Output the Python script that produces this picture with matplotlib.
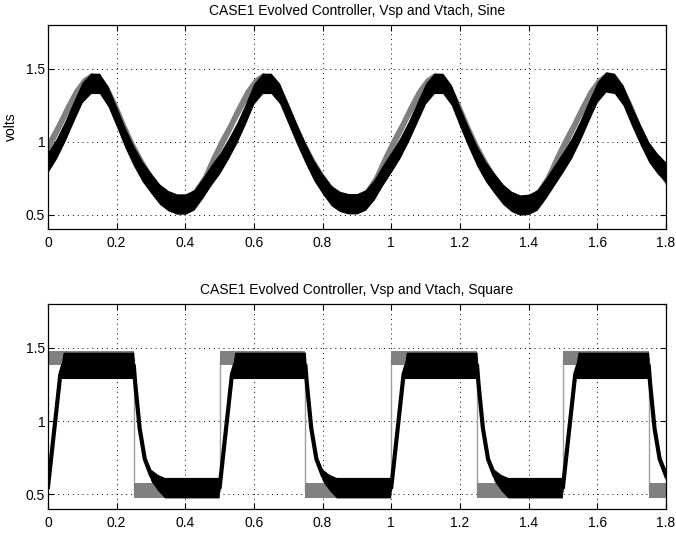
import numpy as np
import matplotlib.pyplot as plt

plt.rcParams['font.family'] = ['Liberation Sans', 'DejaVu Sans']

# 采样时间 (s)
t_sine = np.round(np.arange(0, 1.8 + 1e-9, 0.025), 3)

# 正弦输入 Vsp（灰）与 Vtach（黑）中心值，读图
vsp_sine = [0.97, 1.08, 1.20, 1.31, 1.39, 1.43, 1.41, 1.34, 1.22, 1.08,
            0.95, 0.84, 0.74, 0.66, 0.60, 0.57, 0.58, 0.63, 0.72, 0.85,
            0.97, 1.08, 1.20, 1.31, 1.39, 1.43, 1.41, 1.34, 1.22, 1.08,
            0.95, 0.84, 0.74, 0.66, 0.60, 0.57, 0.58, 0.63, 0.72, 0.85,
            0.97, 1.08, 1.20, 1.31, 1.39, 1.43, 1.41, 1.34, 1.22, 1.08,
            0.95, 0.84, 0.74, 0.66, 0.60, 0.57, 0.58, 0.63, 0.72, 0.85,
            0.97, 1.08, 1.20, 1.31, 1.39, 1.43, 1.41, 1.34, 1.22, 1.08,
            0.95, 0.84, 0.745]
vtach_sine = [0.86, 0.955, 1.075, 1.21, 1.34, 1.40, 1.40, 1.31, 1.17, 1.025,
              0.90, 0.795, 0.715, 0.64, 0.595, 0.572, 0.572, 0.60, 0.68, 0.77,
              0.85, 0.95, 1.06, 1.19, 1.33, 1.40, 1.40, 1.33, 1.19, 1.05,
              0.92, 0.80, 0.71, 0.63, 0.59, 0.574, 0.574, 0.60, 0.67, 0.77,
              0.86, 0.955, 1.07, 1.20, 1.33, 1.40, 1.40, 1.32, 1.17, 1.03,
              0.90, 0.795, 0.715, 0.64, 0.59, 0.565, 0.57, 0.60, 0.68, 0.77,
              0.86, 0.955, 1.075, 1.21, 1.34, 1.41, 1.40, 1.32, 1.18, 1.05,
              0.93, 0.85, 0.79]
sp_spread_sine = 0.045
tach_spread_sine = 0.07

# 方波输入
t_sq_sp = [0, 0.25, 0.25, 0.5, 0.5, 0.75, 0.75, 1.0, 1.0, 1.25, 1.25,
           1.5, 1.5, 1.75, 1.75, 1.8]
vsp_sq = [1.43, 1.43, 0.525, 0.525, 1.43, 1.43, 0.525, 0.525, 1.43, 1.43, 0.525,
          0.525, 1.43, 1.43, 0.525, 0.525]
sp_spread_sq = [0.05, 0.05, 0.05, 0.05, 0.05, 0.05, 0.05, 0.05, 0.05, 0.05, 0.05,
                0.05, 0.05, 0.05, 0.05, 0.05]

t_sq_tach = [0.000, 0.036, 0.044, 0.250, 0.254, 0.267, 0.282, 0.300, 0.320, 0.340, 0.498,
             0.500, 0.536, 0.544, 0.750, 0.754, 0.767, 0.782, 0.800, 0.820, 0.840, 0.998,
             1.000, 1.036, 1.044, 1.250, 1.254, 1.267, 1.282, 1.300, 1.320, 1.340, 1.498,
             1.500, 1.536, 1.544, 1.750, 1.754, 1.767, 1.782, 1.800]
vtach_sq = [0.55, 1.32, 1.38, 1.38, 1.26, 0.95, 0.74, 0.63, 0.58, 0.545, 0.545,
            0.545, 1.32, 1.38, 1.38, 1.26, 0.95, 0.74, 0.63, 0.58, 0.545, 0.545,
            0.545, 1.32, 1.38, 1.38, 1.26, 0.95, 0.74, 0.63, 0.58, 0.545, 0.545,
            0.545, 1.32, 1.38, 1.38, 1.26, 0.95, 0.74, 0.63]
tach_spread_sq = [0.02, 0.03, 0.09, 0.09, 0.03, 0.02, 0.025, 0.04, 0.055, 0.07, 0.07,
                  0.02, 0.03, 0.09, 0.09, 0.03, 0.02, 0.025, 0.04, 0.055, 0.07, 0.07,
                  0.02, 0.03, 0.09, 0.09, 0.03, 0.02, 0.025, 0.04, 0.055, 0.07, 0.07,
                  0.02, 0.03, 0.09, 0.09, 0.03, 0.02, 0.025, 0.04]

x_ticks = [0, 0.2, 0.4, 0.6, 0.8, 1.0, 1.2, 1.4, 1.6, 1.8]
x_tick_labels = ['0', '0.2', '0.4', '0.6', '0.8', '1', '1.2', '1.4', '1.6', '1.8']
y_ticks = [0.5, 1.0, 1.5]
y_tick_labels = ['0.5', '1', '1.5']

titles = ['CASE1 Evolved Controller, Vsp and Vtach, Sine',
          'CASE1 Evolved Controller, Vsp and Vtach, Square']

GRAY = '#808080'


def band(ax, t, mid, spread, color, lw, z, line_color=None, line_below=False):
    t = np.asarray(t)
    mid = np.asarray(mid)
    spread = np.asarray(spread)
    ax.fill_between(t, mid - spread, mid + spread, color=color, lw=0, zorder=z)
    lz = z - 0.1 if line_below else z + 0.1
    ax.plot(t, mid, color=line_color or color, lw=lw, zorder=lz,
            solid_joinstyle='round')


def style(ax, title):
    ax.set_xlim(0, 1.8)
    ax.set_ylim(0.4, 1.8)
    ax.set_xticks(x_ticks)
    ax.set_xticklabels(x_tick_labels)
    ax.set_yticks(y_ticks)
    ax.set_yticklabels(y_tick_labels)
    ax.set_axisbelow(True)
    ax.grid(True, linestyle=(0, (1, 4)), color='k', linewidth=0.7)
    ax.tick_params(direction='in', top=True, right=True, length=4, labelsize=10, width=0.8)
    ax.tick_params(axis='x', pad=5)
    ax.tick_params(axis='y', pad=2)
    for s in ax.spines.values():
        s.set_linewidth(0.9)
        s.set_zorder(5)
    ax.set_title(title, fontsize=10, pad=7)


fig = plt.figure(figsize=(6.76, 5.34), dpi=100)
ax1 = fig.add_axes([0.071, 0.571, 0.914, 0.382])
ax2 = fig.add_axes([0.071, 0.047, 0.914, 0.384])

band(ax1, t_sine, vsp_sine, sp_spread_sine, GRAY, 2.0, 1)
band(ax1, t_sine, vtach_sine, tach_spread_sine, 'k', 3.0, 2)
style(ax1, titles[0])
ax1.set_ylabel('volts', fontsize=10, labelpad=6)

band(ax2, t_sq_sp, vsp_sq, sp_spread_sq, GRAY, 1.0, 1, line_color='#a0a0a0', line_below=True)
band(ax2, t_sq_tach, vtach_sq, tach_spread_sq, 'k', 3.0, 2)
style(ax2, titles[1])

fig.savefig('out.png', dpi=100)
